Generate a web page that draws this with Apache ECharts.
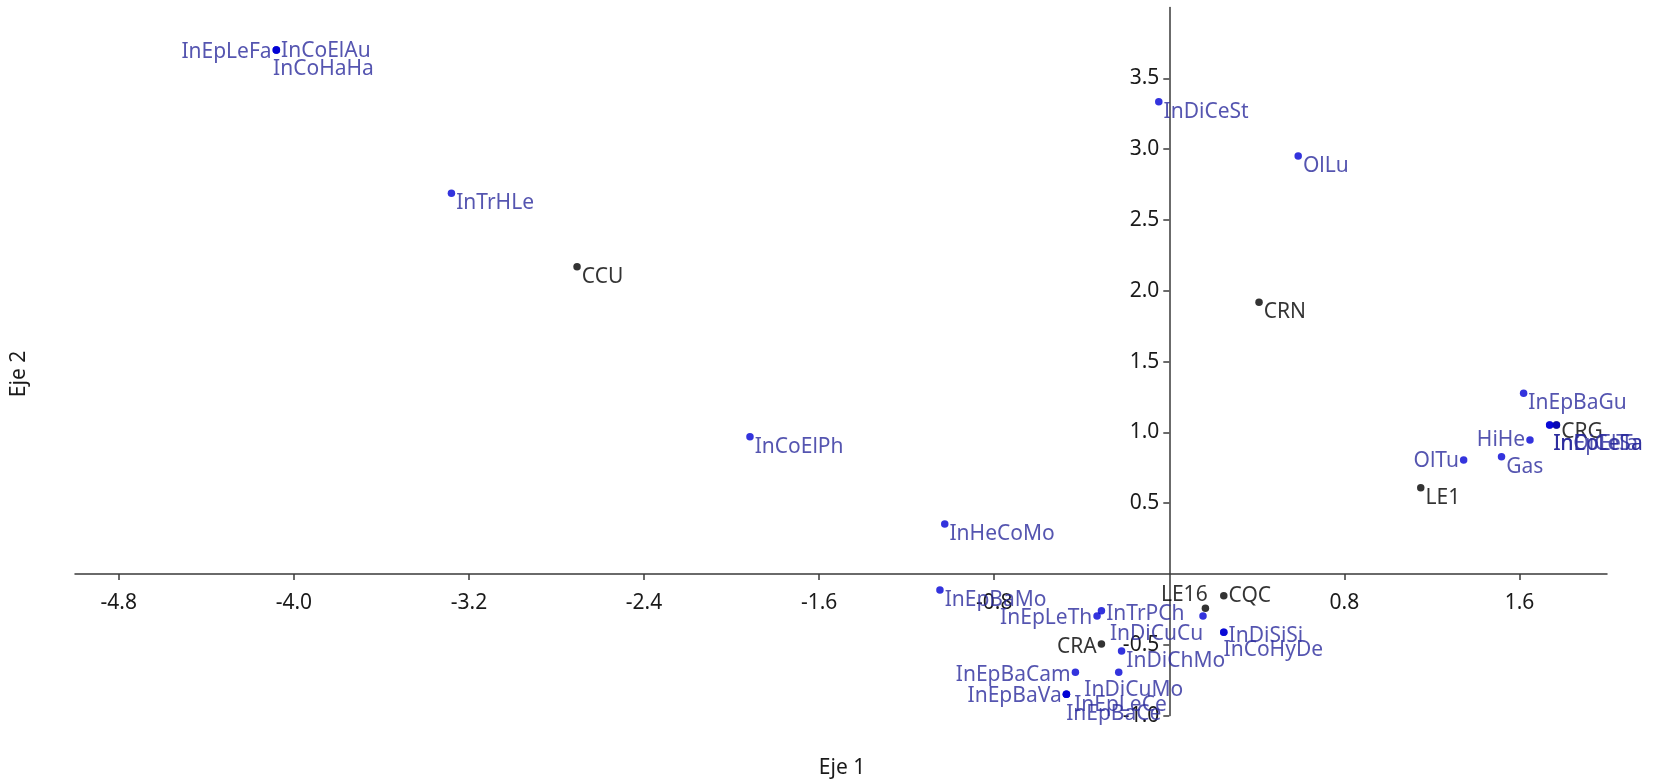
<!DOCTYPE html>
<html>
<head>
<meta charset="utf-8">
<script src="https://cdn.jsdelivr.net/npm/echarts@6/dist/echarts.min.js"></script>
<style>
html,body{margin:0;padding:0;background:#fff;}
#chart{width:1654px;height:784px;}
</style>
</head>
<body>
<div id="chart"></div>
<script>
// ---- data ----
const blueNames = ['InEpLeFa','InCoElAu','InCoHaHa','InTrHLe','InCoElPh','InHeCoMo','InEpBaMo',
  'InDiCeSt','OlLu','InEpBaGu','InDiCeSa','InEpLeTa','InCoElTa','HiHe','OlTu','Gas',
  'InTrPCh','InEpLeTh','InDiCuCu','InDiSiSi','InCoHyDe','InDiChMo','InEpBaCam','InDiCuMo',
  'InEpBaVa','InEpLeCe','InEpBaCe'];
const blueX = [-4.08,-4.08,-4.08,-3.28,-1.916,-1.026,-1.048,
  -0.048,0.589,1.619,1.738,1.738,1.769,1.648,1.345,1.518,
  -0.310,-0.330,0.154,0.249,0.249,-0.218,-0.429,-0.231,
  -0.470,-0.470,-0.470];
const blueY = [3.70,3.70,3.70,2.689,0.970,0.353,-0.113,
  3.335,2.952,1.276,1.052,1.052,1.052,0.946,0.805,0.828,
  -0.259,-0.297,-0.297,-0.412,-0.412,-0.544,-0.694,-0.694,
  -0.850,-0.850,-0.850];

const blackNames = ['CCU','CRN','CRG','LE1','LE16','CQC','CRA'];
const blackX = [-2.706,0.410,1.769,1.149,0.165,0.249,-0.310];
const blackY = [2.170,1.919,1.052,0.609,-0.242,-0.153,-0.494];

const xTicks = [-4.8,-4.0,-3.2,-2.4,-1.6,-0.8,0.8,1.6];
const yTicks = [-1.0,-0.5,0.5,1.0,1.5,2.0,2.5,3.0,3.5];
const xAxisTitle = 'Eje 1';
const yAxisTitle = 'Eje 2';

// ---- label placement (layout only) ----
const FONT = 'Noto Sans';
const FS = 21;
const place = {
  InEpLeFa:{position:'left',offset:[0,2]},
  InCoElAu:{position:'right',offset:[0,1]},
  InCoHaHa:{position:'right',offset:[-8,19]},
  HiHe:{position:'left',offset:[0,0]},
  OlTu:{position:'left',offset:[0,1]},
  CRA:{position:'left',offset:[0,3]},
  InEpBaCam:{position:'left',offset:[0,3]},
  InEpBaVa:{position:'left',offset:[0,2]},
  InEpLeTh:{position:'left',offset:[0,2]},
  LE16:{position:'left',offset:[7,-13]},
  InDiCuCu:{position:'left',offset:[5,18]},
  CQC:{position:'right',offset:[0,0]},
  InTrPCh:{position:'right',offset:[0,3]},
  InDiSiSi:{position:'right',offset:[0,4]},
  InCoHyDe:{position:'right',offset:[-5,18]},
  InDiCuMo:{position:'bottom',offset:[15,2]},
  InEpLeCe:{position:'right',offset:[3,11]},
  InEpBaCe:{position:'right',offset:[-5,20]},
  CRG:{position:'right',offset:[0,7]},
  InDiCeSa:{position:'right',offset:[-1,19]},
  InEpLeTa:{position:'right',offset:[-1,19]},
  InCoElTa:{position:'right',offset:[-8,19]}
};
const DEFAULT_PLACE = {position:'right',offset:[0,10]};
function placeOf(n){ return place[n] || DEFAULT_PLACE; }
function items(names, xs, ys){
  return names.map((n,i)=>({name:n, value:[xs[i],ys[i]], label:{position:placeOf(n).position}}));
}
function layoutFor(names){
  return function(params){
    const p = placeOf(names[params.dataIndex]);
    return {dx:p.offset[0], dy:p.offset[1], hideOverlap:false};
  };
}

const GRID = {left:75, right:47, top:7.6, bottom:68.4};
const chart = echarts.init(document.getElementById('chart'), null, {renderer:'canvas'});
const axisColor = '#3a3a3a';
const W = 1654, H = 784;
const plotW = W - GRID.left - GRID.right;
const plotH = H - GRID.top - GRID.bottom;
const XMIN = -5, XMAX = 2, YMIN = -1, YMAX = 4;
// shift axes so they cross at the origin (labels follow the lines)
const yAxisOffset = -plotW * (0 - XMIN) / (XMAX - XMIN);
const xAxisOffset = -plotH * (0 - YMIN) / (YMAX - YMIN);

chart.setOption({
  animation:false,
  backgroundColor:'#ffffff',
  grid:Object.assign({containLabel:false}, GRID),
  xAxis:{
    type:'value', min:XMIN, max:XMAX, position:'bottom', offset:xAxisOffset,
    splitLine:{show:false},
    axisLine:{onZero:false, lineStyle:{color:axisColor, width:1.5}},
    axisTick:{show:true, inside:false, length:6, customValues:xTicks, lineStyle:{color:axisColor, width:1.5}},
    axisLabel:{customValues:xTicks, margin:19, fontFamily:FONT, fontSize:FS, color:'#1a1a1a',
      formatter:v=>v.toFixed(1)}
  },
  yAxis:{
    type:'value', min:YMIN, max:YMAX, position:'left', offset:yAxisOffset,
    splitLine:{show:false},
    axisLine:{onZero:false, lineStyle:{color:axisColor, width:1.5}},
    axisTick:{show:true, inside:false, length:6, customValues:yTicks, lineStyle:{color:axisColor, width:1.5}},
    axisLabel:{customValues:yTicks, margin:10, fontFamily:FONT, fontSize:FS, color:'#1a1a1a',
      formatter:v=>v.toFixed(1)}
  },
  series:[
    {
      type:'scatter', name:'sitios', z:2,
      symbol:'circle', symbolSize:7.5,
      itemStyle:{color:'#000000'},
      label:{show:true, formatter:'{b}', fontFamily:FONT, fontSize:FS, color:'#000000', distance:1},
      labelLayout:layoutFor(blackNames),
      data:items(blackNames, blackX, blackY)
    },
    {
      type:'scatter', name:'individuos', z:3,
      symbol:'circle', symbolSize:7.5,
      itemStyle:{color:'#0000d4'},
      label:{show:true, formatter:'{b}', fontFamily:FONT, fontSize:FS, color:'#2a2a9c', distance:1},
      labelLayout:layoutFor(blueNames),
      data:items(blueNames, blueX, blueY)
    }
  ],
  graphic:[
    {type:'text', x:842, y:768, style:{text:xAxisTitle, font:FS+'px "Noto Sans"', fill:'#1a1a1a', align:'center', verticalAlign:'middle'}},
    {type:'text', x:19, y:374, rotation:Math.PI/2, style:{text:yAxisTitle, font:FS+'px "Noto Sans"', fill:'#1a1a1a', align:'center', verticalAlign:'middle'}}
  ]
});
</script>
</body>
</html>
